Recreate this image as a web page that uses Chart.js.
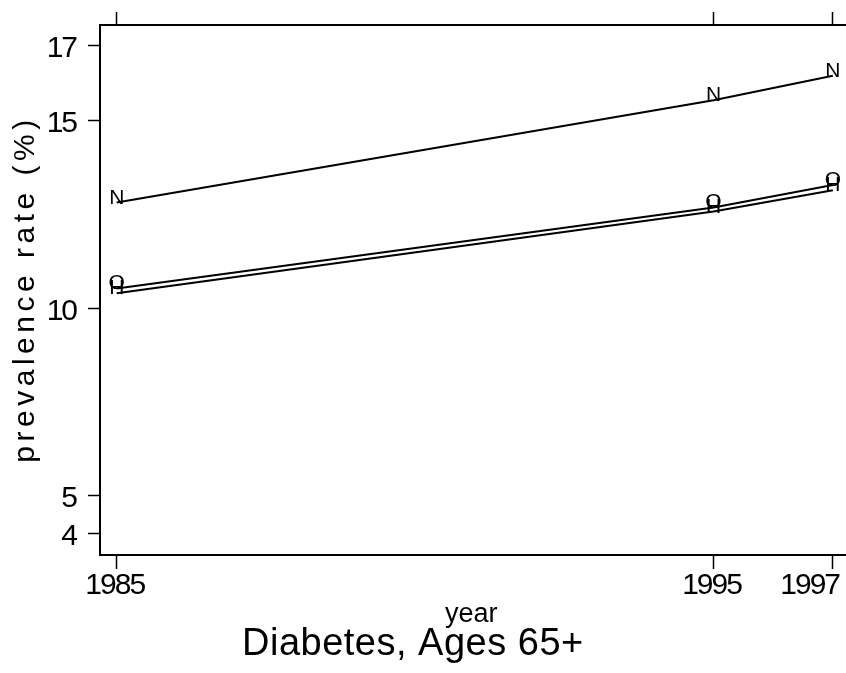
<!DOCTYPE html>
<html>
<head>
<meta charset="utf-8">
<script src="https://cdn.jsdelivr.net/npm/chart.js@4.4.1/dist/chart.umd.min.js"></script>
<style>
	body { margin: 0; background: #fff; overflow: hidden; }
	canvas { display: block; }
</style>
</head>
<body>
<canvas id="chart" width="846" height="673"></canvas>
<script>
var years = [1985, 1995, 1997],
	 yTicks = [4, 5, 10, 15, 17],
	 seriesLetters = ["N", "O", "H"],
	 seriesN = [12.82, 15.55, 16.2],
	 seriesO = [10.53, 12.69, 13.29],
	 seriesH = [10.40, 12.58, 13.15],
	 xTitle = "year",
	 yTitle = "prevalence rate (%)",
	 mainTitle = "Diabetes, Ages 65+";

var fontFamily = '"Liberation Sans", Arial, sans-serif';

function toPoints(values) {
	var pts = [];
	for (var i = 0; i < years.length; i++) {
		pts.push({ x: years[i], y: values[i] });
	}
	return pts;
}

function makeDataset(letter, values) {
	return {
		label: letter,
		data: toPoints(values),
		borderColor: "#000",
		borderWidth: 2,
		pointRadius: 0,
		tension: 0,
		fill: false
	};
}

var textPlugin = {
	id: "stataText",
	beforeDraw: function(chart) {
		// narrower tick digits like the original
		chart.ctx.letterSpacing = "-2px";
	},
	afterDatasetsDraw: function(chart) {
		var ctx = chart.ctx;
		ctx.save();
		ctx.letterSpacing = "0px";
		ctx.fillStyle = "#000";
		ctx.font = "21px " + fontFamily;
		ctx.textAlign = "center";
		ctx.textBaseline = "alphabetic";
		chart.data.datasets.forEach(function(ds, i) {
			chart.getDatasetMeta(i).data.forEach(function(pt) {
				ctx.fillText(ds.label, pt.x, pt.y + 1);
			});
		});
		ctx.restore();
	},
	afterDraw: function(chart) {
		var ctx = chart.ctx,
			 xScale = chart.scales.x;
		ctx.save();
		ctx.fillStyle = "#000";
		ctx.textBaseline = "alphabetic";
		ctx.textAlign = "left";

		// x tick labels, last one kept inside the canvas
		ctx.font = "30px " + fontFamily;
		ctx.letterSpacing = "-2px";
		years.forEach(function(yr) {
			var txt = String(yr),
				 w = ctx.measureText(txt).width,
				 left = xScale.getPixelForValue(yr) - 2 - w / 2;
			if (left + w > 839) {
				left = 839 - w;
			}
			ctx.fillText(txt, left, 594);
		});

		ctx.letterSpacing = "0px";
		ctx.font = "27px " + fontFamily;
		ctx.fillText(xTitle, 445, 622);

		ctx.font = "38px " + fontFamily;
		ctx.letterSpacing = "0.5px";
		ctx.fillText(mainTitle, 242, 655);

		ctx.translate(34, 291);
		ctx.rotate(-Math.PI / 2);
		ctx.font = "30px " + fontFamily;
		ctx.letterSpacing = "4.5px";
		ctx.textAlign = "center";
		ctx.fillText(yTitle, 2, 0);
		ctx.restore();
	}
};

var tickFont = { family: fontFamily, size: 30 };

var chart = new Chart(document.getElementById("chart").getContext("2d"), {
	type: "line",
	data: {
		datasets: [
			makeDataset(seriesLetters[0], seriesN),
			makeDataset(seriesLetters[1], seriesO),
			makeDataset(seriesLetters[2], seriesH)
		]
	},
	options: {
		responsive: false,
		animation: false,
		layout: { padding: 0 },
		plugins: {
			legend: { display: false },
			tooltip: { enabled: false },
			title: { display: false }
		},
		scales: {
			x: {
				type: "linear",
				position: "bottom",
				min: 1984.72,
				max: 1997.22,
				afterBuildTicks: function(scale) {
					scale.ticks = years.map(function(v) { return { value: v }; });
				},
				afterFit: function(scale) {
					scale.height = 118;
					scale.paddingLeft = 0;
					scale.paddingRight = 0;
				},
				ticks: { display: false },
				grid: {
					drawOnChartArea: false,
					drawTicks: true,
					tickLength: 14,
					tickColor: "#000",
					tickWidth: 1.5
				},
				border: { display: true, color: "#000", width: 2 }
			},
			xTop: {
				type: "linear",
				position: "top",
				min: 1984.72,
				max: 1997.22,
				afterBuildTicks: function(scale) {
					scale.ticks = years.map(function(v) { return { value: v }; });
				},
				afterFit: function(scale) {
					scale.height = 25;
					scale.paddingLeft = 0;
					scale.paddingRight = 0;
				},
				ticks: { display: false },
				grid: {
					drawOnChartArea: false,
					drawTicks: true,
					tickLength: 13,
					tickColor: "#000",
					tickWidth: 1.5
				},
				border: { display: true, color: "#000", width: 2 }
			},
			y: {
				type: "linear",
				position: "left",
				min: 3.42,
				max: 17.555,
				afterBuildTicks: function(scale) {
					scale.ticks = yTicks.map(function(v) { return { value: v }; });
				},
				afterFit: function(scale) {
					scale.width = 100;
					scale.paddingTop = 0;
					scale.paddingBottom = 0;
				},
				ticks: {
					color: "#000",
					font: tickFont,
					padding: 12,
					labelOffset: 3,
					callback: function(v) { return String(v); }
				},
				grid: {
					drawOnChartArea: false,
					drawTicks: true,
					tickLength: 12,
					tickColor: "#000",
					tickWidth: 1.5
				},
				border: { display: true, color: "#000", width: 2 }
			}
		}
	},
	plugins: [textPlugin]
});
</script>
</body>
</html>
